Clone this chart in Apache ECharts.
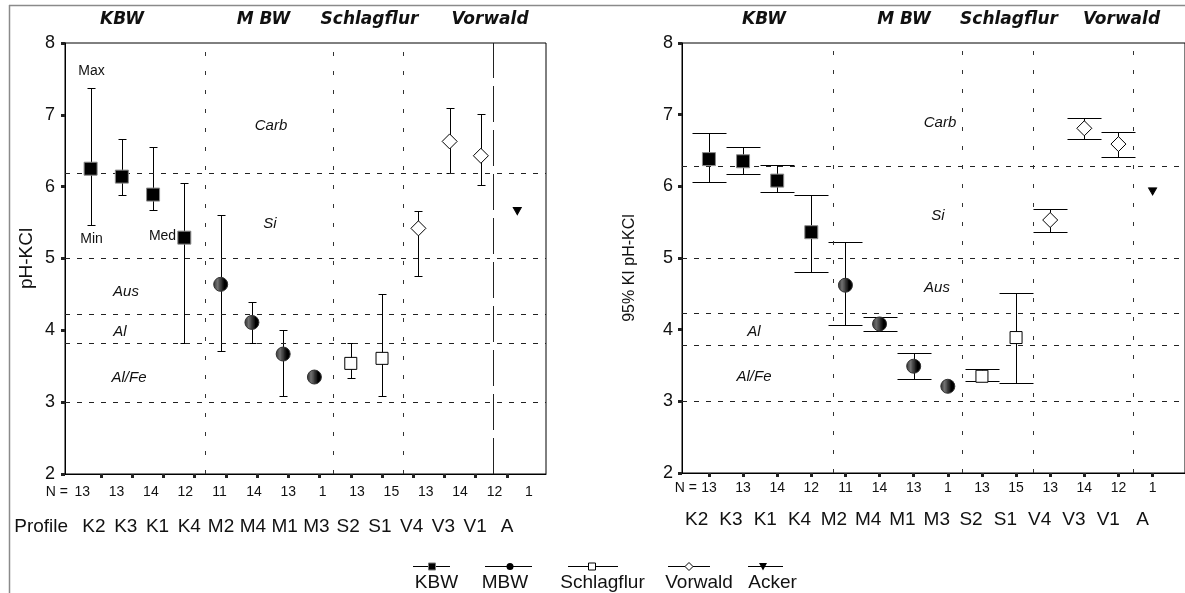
<!DOCTYPE html>
<html>
<head>
<meta charset="utf-8">
<script src="https://cdn.jsdelivr.net/npm/echarts@6/dist/echarts.min.js"></script>
<style>
  html, body { margin: 0; padding: 0; background: #fff; }
  #chart { width: 1185px; height: 593px; }
</style>
</head>
<body>
<div id="chart"></div>
<script>
// ---- data ----
const profiles = ['K2', 'K3', 'K1', 'K4', 'M2', 'M4', 'M1', 'M3', 'S2', 'S1', 'V4', 'V3', 'V1', 'A'];
const profileGroup = ['KBW', 'KBW', 'KBW', 'KBW', 'MBW', 'MBW', 'MBW', 'MBW',
  'Schlagflur', 'Schlagflur', 'Vorwald', 'Vorwald', 'Vorwald', 'Acker'];
const groupNames = ['KBW', 'MBW', 'Schlagflur', 'Vorwald', 'Acker'];
const nCounts = [13, 13, 14, 12, 11, 14, 13, 1, 13, 15, 13, 14, 12, 1];

// left panel: median with min / max
const medianPH = [6.25, 6.14, 5.89, 5.29, 4.64, 4.11, 3.67, 3.35, 3.54, 3.61, 5.42, 6.63, 6.43, 5.66];
const minPH = [5.47, 5.89, 5.67, 3.82, 3.71, 3.82, 3.09, null, 3.34, 3.09, 4.76, 6.19, 6.03, null];
const maxPH = [7.37, 6.67, 6.55, 6.05, 5.61, 4.40, 4.01, null, 3.82, 4.51, 5.66, 7.09, 7.01, null];

// right panel: mean with 95% confidence interval
const meanPH = [6.38, 6.35, 6.08, 5.36, 4.62, 4.08, 3.49, 3.21, 3.35, 3.89, 5.53, 6.81, 6.59, 5.93];
const ciLow = [6.06, 6.17, 5.92, 4.80, 4.07, 3.98, 3.31, null, 3.28, 3.25, 5.36, 6.66, 6.41, null];
const ciHigh = [6.74, 6.55, 6.30, 5.88, 5.22, 4.18, 3.67, null, 3.45, 4.51, 5.69, 6.96, 6.76, null];

// buffer-range limits (horizontal reference lines) and group separators
const zoneNames = ['Carb', 'Si', 'Aus', 'Al', 'Al/Fe'];
const zoneLimitsLeft = [6.18, 5.0, 4.22, 3.82, 3.0];
const zoneLimitsRight = [6.28, 5.0, 4.23, 3.78, 3.0];
const separatorsLeft = [3.33, 7.43, 9.67];
const ackerSeparatorLeft = [12.55];
const separatorsRight = [3.63, 7.42, 9.49, 12.43];
const headerNames = ['KBW', 'M BW', 'Schlagflur', 'Vorwald'];

// ---- styles ----
const FONT = '"Liberation Sans", Arial, sans-serif';
const TXT = '#111';

const hatchCanvas = document.createElement('canvas');
hatchCanvas.width = 3; hatchCanvas.height = 3;
(function () {
  const c = hatchCanvas.getContext('2d');
  c.fillStyle = '#000'; c.fillRect(0, 0, 3, 3);
  c.fillStyle = '#707070'; c.fillRect(2, 0, 1, 3);
})();
const hatch = { image: hatchCanvas, repeat: 'repeat' };

const groupStyle = {
  KBW:        { symbol: 'rect',     size: 13,     fill: '#000', border: '#8a8a8a', rotate: 0 },
  MBW:        { symbol: 'circle',   size: 14,     fill: hatch,  border: '#333',    rotate: 0 },
  Schlagflur: { symbol: 'rect',     size: 12,     fill: '#fff', border: '#000',    rotate: 0 },
  Vorwald:    { symbol: 'diamond',  size: 15,     fill: '#fff', border: '#000',    rotate: 0 },
  Acker:      { symbol: 'triangle', size: [8, 7], fill: '#000', border: '#000',    rotate: 180 }
};
const leftOffset = { KBW: -0.33, MBW: -0.165, Schlagflur: 0, Vorwald: 0.165, Acker: 0.33 };
const rightOffset = { KBW: 0, MBW: 0, Schlagflur: 0, Vorwald: 0, Acker: 0 };
const idx = profiles.map((_, i) => i);

// ---- builders ----
function markerSeries(g, values, xIdx, yIdx, offsets) {
  const st = groupStyle[g];
  return {
    type: 'scatter', name: g, xAxisIndex: xIdx, yAxisIndex: yIdx, z: 6,
    symbol: st.symbol, symbolSize: st.size, symbolRotate: st.rotate,
    itemStyle: { color: st.fill, borderColor: st.border, borderWidth: 1, opacity: 1 },
    emphasis: { disabled: true }, silent: true, animation: false,
    data: idx.filter(i => profileGroup[i] === g).map(i => [i + offsets[g], values[i]])
  };
}

function crisp(v) { return Math.round(v) + 0.5; }

function barSeries(xIdx, yIdx, lows, highs, offsets, capPx, marks) {
  return {
    type: 'custom', xAxisIndex: xIdx, yAxisIndex: yIdx, z: 3, silent: true, animation: false,
    data: idx.filter(i => lows[i] != null).map(i => [i + offsets[profileGroup[i]], lows[i], highs[i]]),
    encode: { x: 0, y: [1, 2] },
    renderItem(params, api) {
      const lo = api.coord([api.value(0), api.value(1)]);
      const hi = api.coord([api.value(0), api.value(2)]);
      const x = crisp(lo[0]), y1 = crisp(hi[1]), y2 = crisp(lo[1]), h = capPx / 2;
      const style = { stroke: '#000', lineWidth: 1 };
      return {
        type: 'group', children: [
          { type: 'line', shape: { x1: x, y1: y1, x2: x, y2: y2 }, style },
          { type: 'line', shape: { x1: x - h, y1: y1, x2: x + h, y2: y1 }, style },
          { type: 'line', shape: { x1: x - h, y1: y2, x2: x + h, y2: y2 }, style }
        ]
      };
    },
    markLine: marks
  };
}

function refLines(limits, seps, longSeps) {
  const data = [];
  limits.forEach(v => data.push({ yAxis: v, lineStyle: { type: [5, 7], color: '#222', width: 1 } }));
  seps.forEach(v => data.push({ xAxis: v, lineStyle: { type: [4, 15], color: '#333', width: 1 } }));
  longSeps.forEach(v => data.push({ xAxis: v, lineStyle: { type: [36, 8], color: '#222', width: 1 } }));
  return { silent: true, symbol: 'none', label: { show: false }, animation: false, data };
}

function yAxisCfg(grid, name, nameGap, nameSize, margin, namePad) {
  return {
    type: 'value', gridIndex: grid, min: 2, max: 8, interval: 1,
    name, nameLocation: 'middle', nameGap, nameRotate: 90, nameMoveOverlap: false,
    nameTextStyle: { fontFamily: FONT, fontSize: nameSize, color: TXT, padding: namePad },
    axisLine: { show: true, onZero: false, lineStyle: { color: '#000', width: 1 } },
    axisTick: { show: true, length: 4, lineStyle: { color: '#222', width: 3 } },
    axisLabel: { fontFamily: FONT, fontSize: 18, color: TXT, margin },
    splitLine: { show: false }
  };
}

function profileRow(grid, name) {
  return {
    type: 'category', gridIndex: grid, position: 'bottom', data: profiles, boundaryGap: true,
    axisLine: { show: false }, axisTick: { show: false },
    axisLabel: { interval: 0, fontFamily: FONT, fontSize: 19, color: TXT, margin: 0, verticalAlign: 'middle' },
    name, nameLocation: 'start', nameGap: 10, nameMoveOverlap: false,
    nameTextStyle: { fontFamily: FONT, fontSize: 19, color: TXT }
  };
}

function txt(text, x, y, size, opts) {
  opts = opts || {};
  return {
    type: 'text', x, y, silent: true,
    style: {
      text, fill: opts.fill || TXT,
      font: (opts.style || 'normal') + ' ' + (opts.weight || 'normal') + ' ' + size + 'px ' + (opts.family || FONT),
      align: opts.align || 'center', verticalAlign: 'middle',
      textAlign: opts.align || 'center', textVerticalAlign: 'middle'
    }
  };
}

// ---- annotation layout (pixel positions) ----
const headerLayout = { left: [122, 263.5, 369.5, 490], right: [764, 904, 1009, 1121.5], y: 20 };
const zoneLayout = {
  left: [[271, 126], [270, 224], [126, 292], [120, 332], [129, 378]],
  right: [[940, 123], [938, 216], [937, 288], [754, 332], [754, 377]]
};
const legendLayout = {
  iconY: 566.5, textY: 583,
  items: [
    { icon: 432, from: 413, to: 450, text: 436.5 },
    { icon: 510, from: 485, to: 532, text: 505 },
    { icon: 592, from: 568, to: 618, text: 602.5 },
    { icon: 689, from: 668, to: 710, text: 699 },
    { icon: 763, from: 748, to: 783, text: 772.5 }
  ]
};

const graphics = [];
// outer frame lines
graphics.push({ type: 'line', silent: true, shape: { x1: 9, y1: 5.5, x2: 1185, y2: 5.5 }, style: { stroke: '#8a8a8a', lineWidth: 1.5 } });
graphics.push({ type: 'line', silent: true, shape: { x1: 9.5, y1: 5, x2: 9.5, y2: 593 }, style: { stroke: '#8a8a8a', lineWidth: 1.5 } });

headerNames.forEach((h, i) => {
  const o = { weight: 'bold', style: 'italic', family: '"DejaVu Sans", sans-serif' };
  graphics.push(txt(h, headerLayout.left[i], headerLayout.y, 17, o));
  graphics.push(txt(h, headerLayout.right[i], headerLayout.y, 17, o));
});
zoneNames.forEach((z, i) => {
  graphics.push(txt(z, zoneLayout.left[i][0], zoneLayout.left[i][1], 15, { style: 'italic' }));
  graphics.push(txt(z, zoneLayout.right[i][0], zoneLayout.right[i][1], 15, { style: 'italic' }));
});
graphics.push(txt('Max', 91.5, 71, 14));
graphics.push(txt('Min', 91.5, 239, 14));
graphics.push(txt('Med', 162.5, 236, 14));

// legend: line with marker, name underneath
groupNames.forEach((g, i) => {
  const L = legendLayout.items[i], y = legendLayout.iconY;
  graphics.push({ type: 'line', silent: true, shape: { x1: L.from, y1: y, x2: L.to, y2: y }, style: { stroke: '#000', lineWidth: 1 } });
  const cx = L.icon;
  let m;
  if (g === 'KBW') m = { type: 'rect', shape: { x: cx - 3.5, y: y - 3.5, width: 7, height: 7 }, style: { fill: '#000', stroke: '#777', lineWidth: 1 } };
  else if (g === 'MBW') m = { type: 'circle', shape: { cx, cy: y, r: 3.5 }, style: { fill: '#000' } };
  else if (g === 'Schlagflur') m = { type: 'rect', shape: { x: cx - 3.5, y: y - 3.5, width: 7, height: 7 }, style: { fill: '#fff', stroke: '#000', lineWidth: 1 } };
  else if (g === 'Vorwald') m = { type: 'polygon', shape: { points: [[cx, y - 4], [cx + 4, y], [cx, y + 4], [cx - 4, y]] }, style: { fill: '#fff', stroke: '#000', lineWidth: 1 } };
  else m = { type: 'polygon', shape: { points: [[cx - 4, y - 3.5], [cx + 4, y - 3.5], [cx, y + 4]] }, style: { fill: '#000' } };
  m.silent = true;
  graphics.push(m);
  graphics.push(txt(g, L.text, legendLayout.textY, 19));
});

// ---- option ----
const series = [];
series.push(barSeries(0, 0, minPH, maxPH, leftOffset, 8, refLines(zoneLimitsLeft, separatorsLeft, ackerSeparatorLeft)));
groupNames.forEach(g => series.push(markerSeries(g, medianPH, 0, 0, leftOffset)));
series.push(barSeries(2, 1, ciLow, ciHigh, rightOffset, 34, refLines(zoneLimitsRight, separatorsRight, [])));
groupNames.forEach(g => series.push(markerSeries(g, meanPH, 2, 1, rightOffset)));

const option = {
  animation: false,
  backgroundColor: '#fff',
  grid: [
    { left: 65, top: 43, width: 481, height: 431, show: true, borderColor: '#000', borderWidth: 1, backgroundColor: 'transparent' },
    { left: 682, top: 43, width: 510, height: 430, show: true, borderColor: '#000', borderWidth: 1, backgroundColor: 'transparent' },
    { left: 78.1, top: 500, width: 444.8, height: 27 },
    { left: 679.5, top: 490, width: 480.2, height: 29.3 }
  ],
  xAxis: [
    { // 0: left data axis
      type: 'value', gridIndex: 0, min: -1.15, max: 14.25, position: 'bottom',
      axisLine: { show: true, onZero: false, lineStyle: { color: '#000', width: 1 } },
      axisTick: { show: true, customValues: idx, length: 4, lineStyle: { color: '#222', width: 3 } },
      axisLabel: { show: false }, splitLine: { show: false }
    },
    { // 1: left case counts
      type: 'category', gridIndex: 0, position: 'bottom', data: nCounts.map(String), boundaryGap: true,
      axisLine: { show: false, onZero: false }, axisTick: { show: false },
      axisLabel: { interval: 0, fontFamily: FONT, fontSize: 14, color: TXT, margin: 11 },
      name: 'N =', nameLocation: 'start', nameGap: -3, nameMoveOverlap: false,
      nameTextStyle: { fontFamily: FONT, fontSize: 14, color: TXT, verticalAlign: 'top', padding: [11, 0, 0, 0] }
    },
    { // 2: right data axis with case counts
      type: 'value', gridIndex: 1, min: -0.789, max: 13.95, position: 'bottom',
      axisLine: { show: true, onZero: false, lineStyle: { color: '#000', width: 1 } },
      axisTick: { show: true, customValues: idx, length: 4, lineStyle: { color: '#222', width: 3 } },
      axisLabel: {
        customValues: idx, fontFamily: FONT, fontSize: 14, color: TXT, margin: 8,
        formatter: v => String(nCounts[Math.round(v)])
      },
      splitLine: { show: false },
      name: 'N =', nameLocation: 'start', nameGap: -15, nameMoveOverlap: false,
      nameTextStyle: { fontFamily: FONT, fontSize: 14, color: TXT, verticalAlign: 'top', padding: [8, 0, 0, 0] }
    },
    profileRow(2, 'Profile'),
    profileRow(3, '')
  ],
  yAxis: [
    yAxisCfg(0, 'pH-KCl', 29, 19, 10, 0),
    yAxisCfg(1, '95% KI pH-KCl', 44, 16, 9, [0, 20, 0, 0]),
    { type: 'value', gridIndex: 2, show: false },
    { type: 'value', gridIndex: 3, show: false }
  ],
  series,
  graphic: graphics
};

const chart = echarts.init(document.getElementById('chart'), null, { renderer: 'canvas' });
chart.setOption(option);
</script>
</body>
</html>
